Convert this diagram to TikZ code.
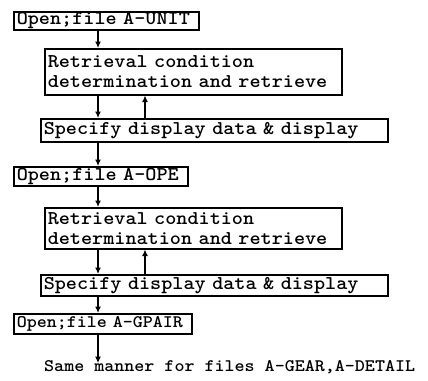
\documentclass[tikz,border=0pt]{standalone}
\usepackage{fontspec}
% typewriter face: widened bold Latin Modern Mono
\newfontfamily\typer{Latin Modern Mono Light}[FakeStretch=1.085]
\usetikzlibrary{arrows.meta}
\tikzset{
  box/.style={draw, line width=1.5pt, anchor=north west, inner xsep=3pt, inner ysep=0pt,
    align=left, font=\fontsize{19.5}{20}\selectfont\typer\bfseries},
  flow/.style={line width=1.5pt, -{Latex[length=6.5pt,width=6pt]}},
}
\begin{document}
\begin{tikzpicture}[x=1pt, y=-1pt]
  \useasboundingbox (0,0) rectangle (428,380);
  % columns of the down and up connectors
  \coordinate (cd) at (98,0);
  \coordinate (cu) at (145,0);

  \node[box, text width=179pt, minimum height=18pt] (b1) at (13,11) {Open;file A-UNIT};
  \node[box, text width=291pt, minimum height=46pt] (b2) at (44,48)
    {Retrieval condition\\determination and retrieve};
  \node[box, text width=341pt, minimum height=23pt] (b3) at (40,118) {Specify display data \& display};
  \node[box, text width=168pt, minimum height=19pt] (b4) at (13,166) {Open;file A-OPE};
  \node[box, text width=291pt, minimum height=41pt] (b5) at (44,207)
    {Retrieval condition\\determination and retrieve};
  \node[box, text width=341pt, minimum height=21pt] (b6) at (40,274) {Specify display data \& display};
  \node[box, text width=172pt, minimum height=20pt, font=\fontsize{17.6}{20}\selectfont\typer\bfseries]
    (b7) at (13,313) {Open;file A-GPAIR};
  \node[font=\fontsize{17.6}{18}\selectfont\typer\bfseries, inner sep=0pt, anchor=west]
    (t) at (44,367) {Same manner for files A-GEAR,A-DETAIL};

  \draw[flow] (b1.south -| cd) -- (b2.north -| cd);
  \draw[flow] (b2.south -| cd) -- (b3.north -| cd);
  \draw[flow] (b3.north -| cu) -- (b2.south -| cu);
  \draw[flow] (b3.south -| cd) -- (b4.north -| cd);
  \draw[flow] (b4.south -| cd) -- (b5.north -| cd);
  \draw[flow] (b5.south -| cd) -- (b6.north -| cd);
  \draw[flow] (b6.north -| cu) -- (b5.south -| cu);
  \draw[flow] (b6.south -| cd) -- (b7.north -| cd);
  \draw[flow] (b7.south -| cd) -- ([yshift=-3pt]t.north -| cd);
\end{tikzpicture}
\end{document}
